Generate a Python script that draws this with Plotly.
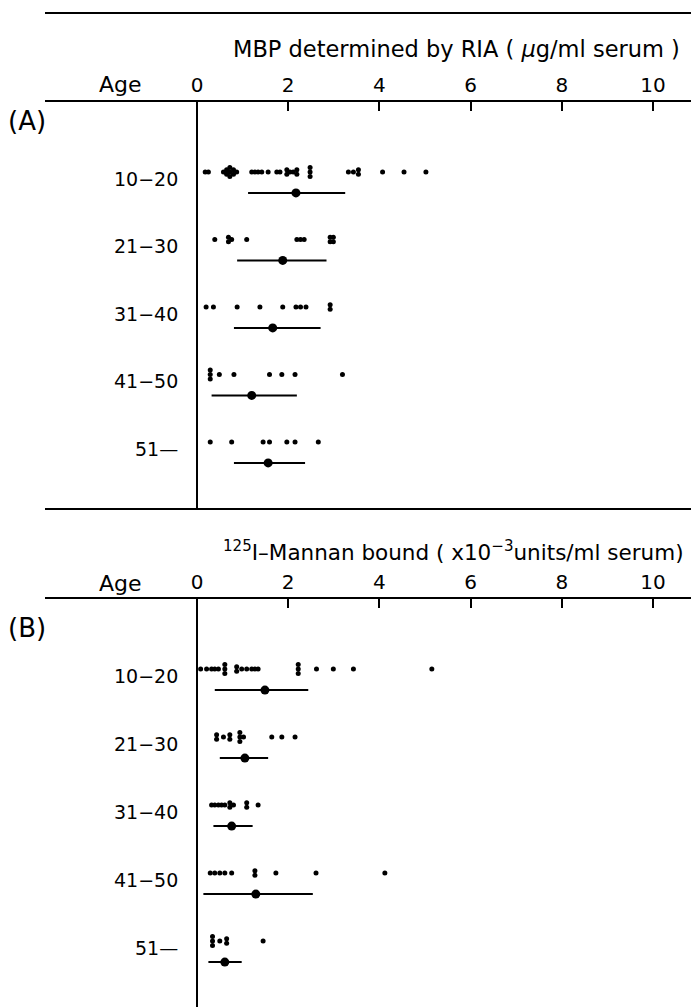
import plotly.graph_objects as go

W, H = 691, 1007

age_groups = ["10−20", "21−30", "31−40", "41−50", "51—"]
tick_vals = [0, 2, 4, 6, 8, 10]
tick_text = ["0", "2", "4", "6", "8", "10"]

# Panel A: MBP determined by RIA (ug/ml serum)
mbp_10_20 = [0.18, 0.25, 0.58, 0.65, 0.65, 0.72, 0.72, 0.72, 0.8, 0.8, 0.87,
             1.2, 1.27, 1.34, 1.42, 1.56, 1.75, 1.82, 1.97, 1.97, 2.04, 2.11,
             2.19, 2.19, 2.48, 2.48, 2.48, 3.32, 3.43, 3.54, 3.54, 4.07, 4.54, 5.02]
mbp_21_30 = [0.39, 0.69, 0.69, 0.76, 1.09, 2.19, 2.27, 2.35, 2.92, 2.92, 2.99, 2.99]
mbp_31_40 = [0.2, 0.36, 0.88, 1.38, 1.88, 2.17, 2.27, 2.39, 2.92, 2.92]
mbp_41_50 = [0.29, 0.29, 0.29, 0.49, 0.81, 1.59, 1.86, 2.15, 3.19]
mbp_51 = [0.29, 0.76, 1.45, 1.59, 1.97, 2.15, 2.66]
mbp_mean = [2.17, 1.88, 1.66, 1.2, 1.56]
mbp_low = [1.12, 0.88, 0.81, 0.32, 0.81]
mbp_high = [3.25, 2.84, 2.71, 2.19, 2.37]

# Panel B: 125I-Mannan bound (x10^-3 units/ml serum)
man_10_20 = [0.08, 0.21, 0.32, 0.39, 0.47, 0.61, 0.61, 0.61, 0.87, 0.87, 0.98,
             1.09, 1.2, 1.27, 1.34, 2.22, 2.22, 2.22, 2.62, 2.99, 3.43, 5.15]
man_21_30 = [0.43, 0.43, 0.58, 0.72, 0.72, 0.94, 0.94, 0.94, 1.02, 1.64, 1.86, 2.15]
man_31_40 = [0.32, 0.39, 0.47, 0.54, 0.61, 0.72, 0.72, 0.8, 1.09, 1.09, 1.34]
man_41_50 = [0.29, 0.39, 0.5, 0.61, 0.76, 1.27, 1.27, 1.73, 2.61, 4.12]
man_51 = [0.34, 0.34, 0.34, 0.5, 0.65, 0.65, 1.45]
man_mean = [1.49, 1.05, 0.76, 1.29, 0.61]
man_low = [0.39, 0.5, 0.36, 0.14, 0.25]
man_high = [2.44, 1.56, 1.22, 2.54, 0.98]

FONT = "DejaVu Sans"
STACK = 0.065
MEAN_OFF = 0.31


def stacked(rows):
    xs, ys = [], []
    for k, vals in enumerate(rows):
        counts = {}
        for v in vals:
            counts[v] = counts.get(v, 0) + 1
        for v, c in counts.items():
            for j in range(c):
                xs.append(v)
                ys.append(k + (j - (c - 1) / 2) * STACK)
    return xs, ys


def py(p):
    return 1 - p / H


fig = go.Figure()

panels = [
    ([mbp_10_20, mbp_21_30, mbp_31_40, mbp_41_50, mbp_51], mbp_mean, mbp_low, mbp_high, "x", "y"),
    ([man_10_20, man_21_30, man_31_40, man_41_50, man_51], man_mean, man_low, man_high, "x2", "y2"),
]
for rows, mean, low, high, xa, ya in panels:
    xs, ys = stacked(rows)
    fig.add_trace(go.Scatter(x=xs, y=ys, mode="markers", xaxis=xa, yaxis=ya,
                             marker=dict(color="black", size=5), showlegend=False))
    fig.add_trace(go.Scatter(
        x=mean, y=[k + MEAN_OFF for k in range(len(mean))], mode="markers",
        xaxis=xa, yaxis=ya, showlegend=False,
        marker=dict(color="black", size=9),
        error_x=dict(type="data", symmetric=False,
                     array=[h - m for h, m in zip(high, mean)],
                     arrayminus=[m - l for m, l in zip(mean, low)],
                     width=0, thickness=2, color="black")))
    for k, lab in enumerate(age_groups):
        fig.add_annotation(x=-0.38, y=k + 0.1, xref=xa, yref=ya, text=lab,
                           showarrow=False, xanchor="right", yanchor="middle",
                           font=dict(family=FONT, size=19, color="black"))

x_unit = 45.6
x_range = [(45 - 197) / x_unit, (691 - 197) / x_unit]
xcommon = dict(range=x_range, domain=[45 / W, 1], side="top", showline=True,
               linecolor="black", linewidth=2, ticks="inside", ticklen=9,
               tickwidth=2, tickcolor="black", tickvals=tick_vals, ticktext=tick_text,
               tickfont=dict(family=FONT, size=20, color="black"), showgrid=False,
               zeroline=True, zerolinecolor="black", zerolinewidth=2)

fig.update_layout(
    width=W, height=H, margin=dict(l=0, r=0, t=0, b=0),
    paper_bgcolor="white", plot_bgcolor="white",
    xaxis=dict(**xcommon, anchor="y", mirror=True),
    yaxis=dict(domain=[py(508), py(102)], range=[(508 - 172) / 67.5, (102 - 172) / 67.5],
               visible=False, anchor="x"),
    xaxis2=dict(**xcommon, anchor="y2"),
    yaxis2=dict(domain=[0, py(599)], range=[(1007 - 669) / 68, (599 - 669) / 68],
                visible=False, anchor="x2"),
)

# top rule of panel A
fig.add_shape(type="line", xref="paper", yref="paper", x0=45 / W, x1=1,
              y0=py(13), y1=py(13), line=dict(color="black", width=2))


def label(x, y, text, size):
    fig.add_annotation(x=x / W, y=py(y), text=text, showarrow=False,
                       xref="paper", yref="paper", xanchor="center", yanchor="middle",
                       font=dict(family=FONT, size=size, color="black"))


label(456, 49, "MBP determined by RIA ( <i>μ</i>g/ml serum )", 22.5)
label(120, 85, "Age", 22)
label(27, 121, "(A)", 26)

label(453, 551, "<sup>125</sup>I–Mannan bound ( x10<sup>−3</sup>units/ml serum)", 21.5)
label(120, 583, "Age", 22)
label(27, 628, "(B)", 26)

fig.write_html("out.html")
